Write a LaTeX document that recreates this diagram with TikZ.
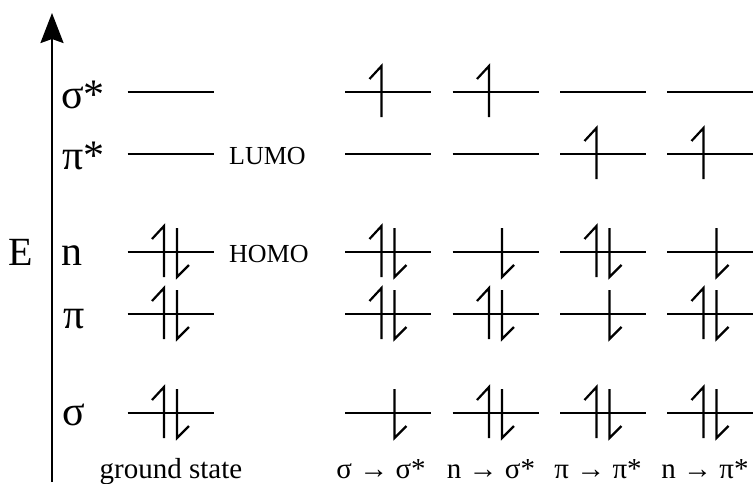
\documentclass[tikz,border=0pt]{standalone}
\usepackage{fontspec}
\setmainfont{Liberation Serif}
\usetikzlibrary{arrows.meta}

\tikzset{
  level/.style={line width=2.4pt},
  spin/.style={line width=2.2pt, line join=miter},
  orblabel/.style={font=\fontsize{42}{42}\selectfont, anchor=base west, inner sep=0pt},
  tag/.style={font=\fontsize{26}{26}\selectfont, anchor=base west, inner sep=0pt},
  caption/.style={font=\fontsize{29}{29}\selectfont, anchor=base, inner sep=0pt},
  pics/upspin/.style={code={\draw[spin] (-6.5,25) -- (-6.5,-26) -- (-18.5,-13);}},
  pics/downspin/.style={code={\draw[spin] (6.5,-24) -- (6.5,25) -- (18.5,13);}},
  pics/pair/.style={code={\pic{upspin}; \pic{downspin};}}
}

\begin{document}
\begin{tikzpicture}[x=1pt, y=-1pt]
\useasboundingbox (0,0) rectangle (754,483);

% energy axis
\draw[line width=2.2pt, -{Stealth[length=30pt,width=23pt,inset=4pt]}] (52,482) -- (52,13);
\node[font=\fontsize{40}{40}\selectfont, anchor=base, inner sep=0pt] (energy) at (21,265) {E};

% orbital names
\node[orblabel] (nsigmastar) at (61,108) {σ*};
\node[orblabel] (npistar) at (62,169) {π*};
\node[orblabel] (nn) at (61,265) {n};
\node[orblabel] (npi) at (63,328) {π};
\node[orblabel] (nsigma) at (62,425) {σ};

% levels in every column
\foreach \x in {170.5,388,495.5,603,710}
  \foreach \y in {92,154,252,314,413}
    \draw[level] (\x-43,\y) -- (\x+43,\y);

% ground state
\pic at (170.5,252) {pair};
\pic at (170.5,314) {pair};
\pic at (170.5,413) {pair};
\node[tag] (lumo) at (229,164) {LUMO};
\node[tag] (homo) at (229,262) {HOMO};
\node[caption] (ground) at (171,478) {ground state};

% sigma -> sigma*
\pic at (388,92) {upspin};
\pic at (388,252) {pair};
\pic at (388,314) {pair};
\pic at (388,413) {downspin};
\node[caption] (t1) at (381,478) {σ → σ*};

% n -> sigma*
\pic at (495.5,92) {upspin};
\pic at (495.5,252) {downspin};
\pic at (495.5,314) {pair};
\pic at (495.5,413) {pair};
\node[caption] (t2) at (491,478) {n → σ*};

% pi -> pi*
\pic at (603,154) {upspin};
\pic at (603,252) {pair};
\pic at (603,314) {downspin};
\pic at (603,413) {pair};
\node[caption] (t3) at (598,478) {π → π*};

% n -> pi*
\pic at (710,154) {upspin};
\pic at (710,252) {downspin};
\pic at (710,314) {pair};
\pic at (710,413) {pair};
\node[caption] (t4) at (705,478) {n → π*};

\end{tikzpicture}
\end{document}
